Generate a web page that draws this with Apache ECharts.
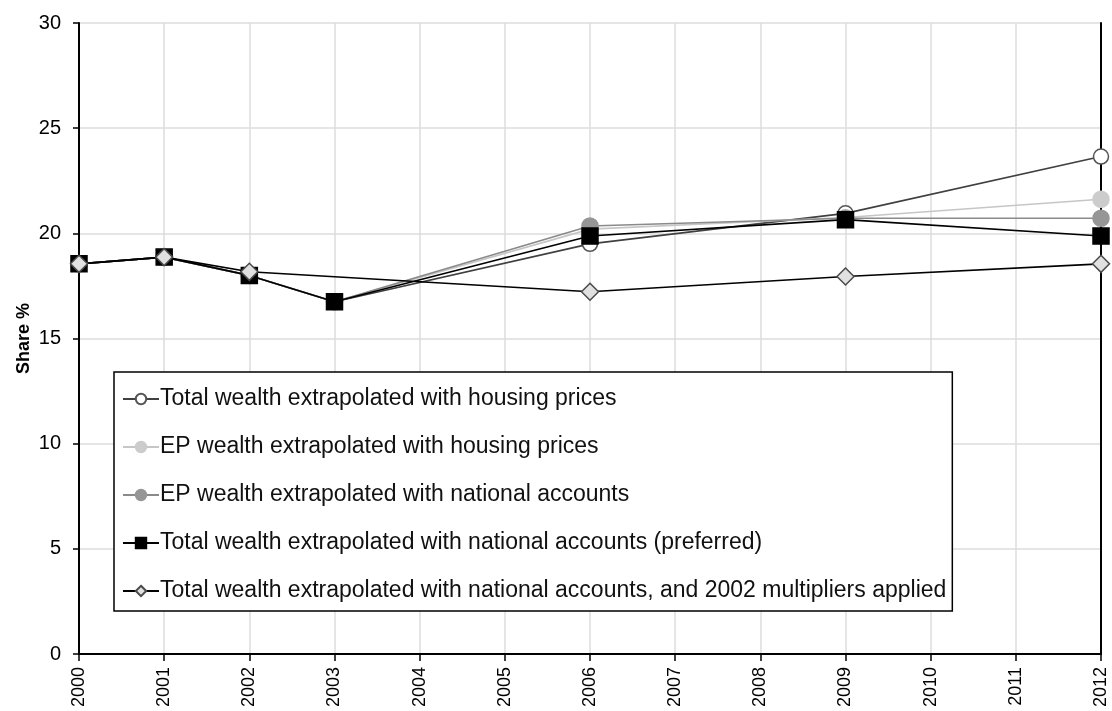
<!DOCTYPE html>
<html>
<head>
<meta charset="utf-8">
<script src="https://cdn.jsdelivr.net/npm/echarts@6/dist/echarts.min.js"></script>
<style>
  html, body { margin: 0; padding: 0; background: #fff; }
  #chart { width: 1112px; height: 711px; }
</style>
</head>
<body>
<div id="chart"></div>
<script>
// x categories
var years = ['2000','2001','2002','2003','2004','2005','2006','2007','2008','2009','2010','2011','2012'];

// series values (null = no observation that year)
var totalHousing  = [18.55, 18.87, 18.0, 16.75, null, null, 19.5,  null, null, 20.95, null, null, 23.65];
var epHousing     = [18.55, 18.87, 18.0, 16.75, null, null, 20.2,  null, null, 20.75, null, null, 21.62];
var epNational    = [18.55, 18.87, 18.0, 16.75, null, null, 20.35, null, null, 20.72, null, null, 20.72];
var preferred     = [18.55, 18.87, 18.0, 16.75, null, null, 19.87, null, null, 20.65, null, null, 19.87];
var multipliers   = [18.55, 18.87, 18.17, null, null, null, 17.22, null, null, 17.95, null, null, 18.55];

var names = [
  'Total wealth extrapolated with housing prices',
  'EP wealth extrapolated with housing prices',
  'EP wealth extrapolated with national accounts',
  'Total wealth extrapolated with national accounts (preferred)',
  'Total wealth extrapolated with national accounts, and 2002 multipliers applied'
];

var font = 'Liberation Sans, Arial, sans-serif';

function lineSeries(name, data, lineColor, symbol, size, fill, border) {
  return {
    name: name,
    type: 'line',
    data: data,
    connectNulls: true,
    symbol: symbol,
    symbolSize: size,
    showAllSymbol: true,
    lineStyle: { color: lineColor, width: 1.6 },
    itemStyle: { color: fill, borderColor: border, borderWidth: 1.5 },
    emphasis: { disabled: true }
  };
}

var chart = echarts.init(document.getElementById('chart'));
chart.setOption({
  animation: false,
  textStyle: { fontFamily: font },
  grid: { left: 79, right: 11, top: 23, bottom: 57 },
  legend: {
    orient: 'vertical',
    left: 114,
    top: 372,
    padding: [15, 6, 8, 8],
    itemGap: 24,
    itemWidth: 36,
    itemHeight: 13,
    borderColor: '#000',
    borderWidth: 1.5,
    backgroundColor: '#fff',
    textStyle: { fontSize: 23, lineHeight: 24, color: '#111', fontFamily: font, padding: [0, 0, 0, -4] },
    data: names
  },
  xAxis: [{
    type: 'category',
    data: years,
    boundaryGap: false,
    axisLine: { lineStyle: { color: '#000', width: 2 } },
    axisTick: { show: true, length: 7, alignWithLabel: true, lineStyle: { color: '#000', width: 1.5 } },
    axisLabel: { rotate: 90, fontSize: 18, color: '#000', margin: 13, interval: 0 },
    splitLine: { show: true, lineStyle: { color: '#dcdcdc', width: 1.5 } }
  }, {
    // top frame line
    type: 'category',
    data: years,
    position: 'top',
    boundaryGap: false,
    axisLine: { lineStyle: { color: '#000', width: 2 } },
    axisTick: { show: false },
    axisLabel: { show: false },
    splitLine: { show: false }
  }],
  yAxis: [{
    type: 'value',
    min: 0,
    max: 30,
    interval: 5,
    name: 'Share %',
    nameLocation: 'middle',
    nameGap: 46,
    nameMoveOverlap: false,
    nameTextStyle: { fontSize: 18, fontWeight: 'bold', color: '#000' },
    axisLine: { show: true, lineStyle: { color: '#000', width: 2 } },
    axisTick: { show: true, length: 6, lineStyle: { color: '#000', width: 1.5 } },
    axisLabel: { fontSize: 20, color: '#000', margin: 18 },
    splitLine: { show: true, lineStyle: { color: '#dcdcdc', width: 1.5 } }
  }, {
    // right frame line
    type: 'value',
    min: 0,
    max: 30,
    interval: 5,
    position: 'right',
    axisLine: { show: true, lineStyle: { color: '#000', width: 2 } },
    axisTick: { show: false },
    axisLabel: { show: false },
    splitLine: { show: false }
  }],
  series: [
    lineSeries(names[0], totalHousing, '#404040', 'circle', 15, '#fff', '#555'),
    lineSeries(names[1], epHousing, '#c6c6c6', 'circle', 16, '#cccccc', '#cccccc'),
    lineSeries(names[2], epNational, '#8a8a8a', 'circle', 16, '#969696', '#969696'),
    lineSeries(names[3], preferred, '#000', 'rect', 16, '#000', '#000'),
    lineSeries(names[4], multipliers, '#000', 'diamond', 17, '#e0e0e0', '#4a4a4a')
  ]
});
</script>
</body>
</html>
